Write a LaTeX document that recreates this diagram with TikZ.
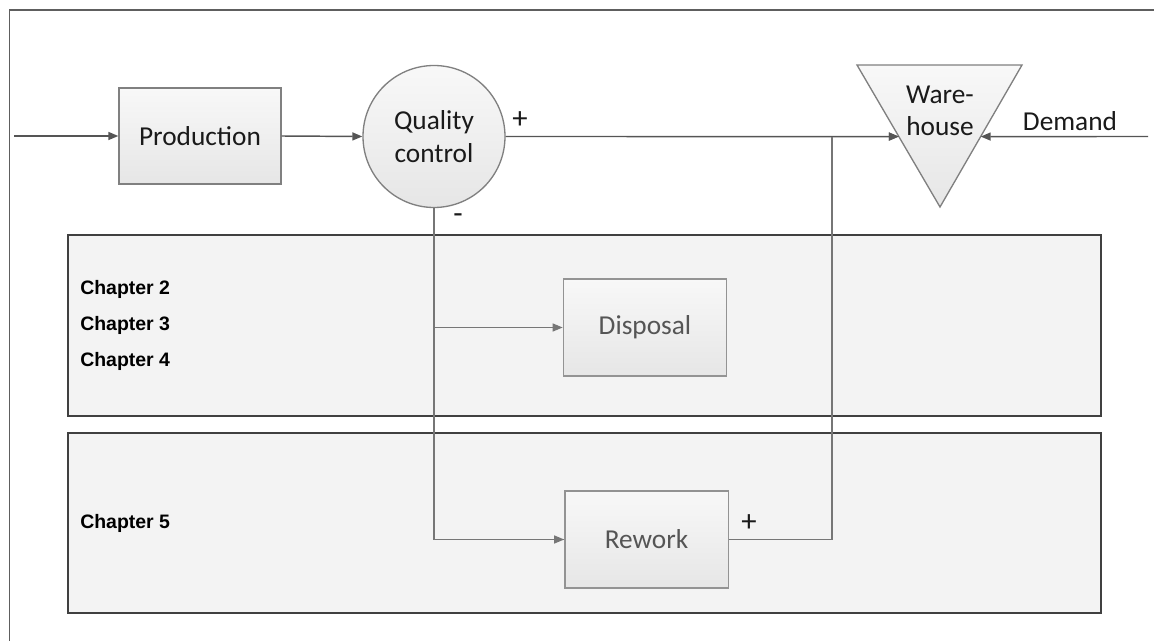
\documentclass[tikz,border=0pt]{standalone}
\usepackage{fontspec}
\setmainfont{Carlito}
\newfontfamily\arialfont{Liberation Sans}
\usetikzlibrary{arrows.meta,calc}

\definecolor{ink}{HTML}{1A1A1A}
\definecolor{softink}{HTML}{555555}
\definecolor{lineclr}{HTML}{555555}
\definecolor{lowline}{HTML}{767676}
\definecolor{boxline}{HTML}{808080}
\definecolor{boxtop}{HTML}{F8F8F8}
\definecolor{boxbot}{HTML}{E6E6E6}
\definecolor{chapfill}{HTML}{F3F3F3}
\definecolor{chapline}{HTML}{404040}
\definecolor{frameclr}{HTML}{5E5E5E}

\begin{document}
\begin{tikzpicture}[x=0.75pt,y=-0.75pt,
  tip/.style={-{Triangle[length=7.5pt,width=6pt]}},
  conn/.style={draw=lineclr,line width=1.1pt,tip},
  lowconn/.style={draw=lowline,line width=1pt},
  label/.style={font=\fontsize{20.5}{24.5}\selectfont,text=ink,inner sep=0pt},
  flowbox/.style={draw=boxline,line width=1pt,top color=boxtop,bottom color=boxbot,
    minimum width=121.5pt,minimum height=72pt,inner sep=0pt,
    font=\fontsize{20.5}{24.5}\selectfont,text=ink},
  lowbox/.style={flowbox,draw=boxline!85,text=softink,minimum width=122.5pt,minimum height=72.75pt},
  chapbox/.style={draw=chapline,line width=1.9pt,fill=chapfill,inner sep=0pt,
    minimum width=774.75pt},
  chaplabel/.style={anchor=west,inner sep=0pt,text=black,
    font=\arialfont\bfseries\fontsize{14.6}{17}\selectfont},
  sign/.style={inner sep=0pt,text=ink,font=\fontsize{23}{24}\selectfont}]

\useasboundingbox (0,0) rectangle (1154,641);

% outer frame (only top and left edges fall inside the page)
\draw[frameclr,line width=1.1pt] (9.5,641) -- (9.5,10) -- (1154,10);

% chapter panels
\node[chapbox,minimum height=135.75pt] (ch1) at (584.5,325.5) {};
\node[chapbox,minimum height=135pt] (ch2) at (584.5,523) {};

\node[chaplabel] (c2) at (80,289) {Chapter 2};
\node[chaplabel] (c3) at (80,325) {Chapter 3};
\node[chaplabel] (c4) at (80,361) {Chapter 4};
\node[chaplabel] (c5) at (80,523) {Chapter 5};

% process elements
\node[flowbox] (prod) at (200,136) {Production};
\node[circle,draw=boxline,line width=1pt,top color=boxtop,bottom color=boxbot,
  minimum size=106.5pt,inner sep=0pt,align=center,
  font=\fontsize{20.5}{24.5}\selectfont,text=ink] (qc) at (434,136.5) {Quality\\control};

% warehouse triangle
\coordinate (whA) at (857,65);
\coordinate (whB) at (1022,65);
\coordinate (whC) at (940,207);
\draw[boxline,line width=1pt,top color=boxtop,bottom color=boxbot] (whA) -- (whB) -- (whC) -- cycle;
\node[label,align=center] (wh) at (940,111) {Ware-\\house};
\coordinate (whL) at ($(whA)!0.504!(whC)$);
\coordinate (whR) at ($(whB)!0.504!(whC)$);

\node[lowbox] (disp) at (645,327.5) {Disposal};
\node[lowbox] (rew) at (646.5,539.5) {Rework};

% free ends of the input and demand flows
\coordinate (in) at (14,136);
\coordinate (dem) at (1148,136.5);
\coordinate (ret) at (832,0);

% connectors
\draw[conn] (in) -- (prod.west);
\draw[conn] (prod.east) -- (qc.west);
\draw[conn] (qc.east) -- (whL);
\draw[conn] (dem) -- (whR);
\node[label] (demand) at (1070,121) {Demand};

\draw[lowconn] (qc.south) |- (rew.west);
\draw[lowconn,tip] (qc.south |- disp.west) -- (disp.west);
\draw[lowconn,tip] ($(rew.west)+(-1,0)$) -- (rew.west);
\draw[lowconn] (rew.east) -| (ret |- whL);
\draw[conn] (ret |- whL) -- (whL);

% flow signs
\node[sign] (qcplus) at (520,120) {+};
\node[sign] (qcminus) at (458,219) {-};
\node[sign] (rwplus) at (749,523) {+};

\end{tikzpicture}
\end{document}
